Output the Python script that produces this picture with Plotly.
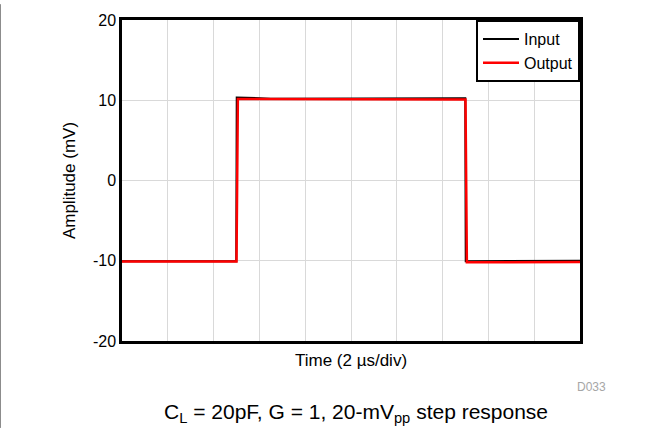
import plotly.graph_objects as go

# ---- data ----
time_us = [0, 4.99, 5.01, 6.5, 14.99, 15.01, 20]
input_mv = [-10.05, -10.05, 10.35, 10.2, 10.25, -10.05, -10.0]

time_out_us = [0, 5.0, 5.06, 15.0, 15.06, 20]
output_mv = [-10.1, -10.1, 10.15, 10.1, -10.2, -10.15]

x_ticks = [0, 2, 4, 6, 8, 10, 12, 14, 16, 18, 20]
y_ticks = [-20, -10, 0, 10, 20]
y_tick_labels = ["-20", "-10", "0", "10", "20"]

series_names = ["Input", "Output"]
x_title = "Time (2 µs/div)"
y_title = "Amplitude (mV)"
caption = "C<sub>L</sub> = 20pF, G = 1, 20-mV<sub>pp</sub> step response"
doc_id = "D033"

# ---- layout geometry ----
W, H = 664, 429
ML, MR, MT, MB = 122, 84, 16, 88
PW, PH = W - ML - MR, H - MT - MB


def px_x(px):
    return (px - ML) / PW


def px_y(py):
    return (H - MB - py) / PH


FONT = "Liberation Sans, Arial, sans-serif"

fig = go.Figure()
fig.add_trace(go.Scatter(x=time_us, y=input_mv, mode="lines", name=series_names[0],
                         line=dict(color="black", width=2)))
fig.add_trace(go.Scatter(x=time_out_us, y=output_mv, mode="lines", name=series_names[1],
                         line=dict(color="#ff0000", width=2.5)))

fig.update_layout(
    width=W, height=H,
    margin=dict(l=ML, r=MR, t=MT, b=MB),
    paper_bgcolor="white", plot_bgcolor="white",
    font=dict(family=FONT, size=16, color="black"),
    showlegend=True,
    legend=dict(x=1, y=1, xanchor="right", yanchor="top",
                bgcolor="white", bordercolor="black", borderwidth=2,
                font=dict(size=16), tracegroupgap=0, itemwidth=36),
)

fig.update_xaxes(range=[0, 20], tickvals=x_ticks, showticklabels=False,
                 showgrid=True, gridcolor="#d9d9d9", gridwidth=1,
                 showline=True, linecolor="black", linewidth=2.5, mirror=True,
                 zeroline=False, ticks="",
                 title=dict(text=x_title, font=dict(size=17), standoff=12))
fig.update_yaxes(range=[-20, 20], tickvals=y_ticks, ticktext=y_tick_labels,
                 showgrid=True, gridcolor="#d9d9d9", gridwidth=1,
                 showline=True, linecolor="black", linewidth=2.5, mirror=True,
                 zeroline=False, ticks="", tickfont=dict(size=16),
                 title=dict(text=y_title, font=dict(size=17), standoff=13))

fig.add_annotation(text=caption, xref="paper", yref="paper",
                   x=px_x(356), y=px_y(414), xanchor="center", yanchor="middle",
                   showarrow=False, font=dict(size=21, color="black"))
fig.add_annotation(text=doc_id, xref="paper", yref="paper",
                   x=px_x(608), y=px_y(388), xanchor="right", yanchor="middle",
                   showarrow=False, font=dict(size=12, color="#a6a6a6"))

fig.add_shape(type="line", xref="paper", yref="paper",
              x0=px_x(0.5), x1=px_x(0.5), y0=px_y(0), y1=px_y(H),
              line=dict(color="#8c8c8c", width=1))

fig.write_html("out.html", config={"displayModeBar": False},
               post_script="document.body.style.margin='0';document.body.style.overflow='hidden';")
